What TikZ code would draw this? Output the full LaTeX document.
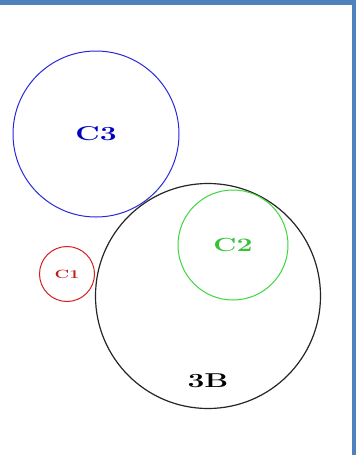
\documentclass[tikz,border=0pt]{standalone}
\usepackage{tikz}
\definecolor{frameblue}{RGB}{79,129,189}
\definecolor{ringblue}{RGB}{40,40,220}
\definecolor{ringgreen}{RGB}{60,215,60}
\definecolor{ringred}{RGB}{215,30,30}
\newcommand{\tag}[2]{\scalebox{1.5}[1]{\fontsize{#1}{#1}\selectfont\bfseries #2}}
\tikzset{ring/.style={circle, inner sep=0pt, line width=1pt}}

\begin{document}
\begin{tikzpicture}[x=1pt, y=-1pt]
    		\useasboundingbox (0,0) rectangle (356,455);
    		\fill[white] (0,0) rectangle (356,455);
    		
    		% frame
    		\fill[frameblue] (0,0) rectangle (356,5);
    		\fill[frameblue] (352,0) rectangle (356,455);
    		
    		% circles
    		\node[ring, draw=black!85, line width=1.2pt, minimum size=225pt] (b3) at (208,296) {};
    		\node[ring, draw=ringblue, minimum size=166pt, text=blue!75!black] (c3) at (96,134) {\tag{20}{C3}};
    		\node[ring, draw=ringgreen, minimum size=110pt, text=ringgreen!90!black] (c2) at (233,245) {\tag{19}{C2}};
    		\node[ring, draw=ringred, minimum size=55pt, text=ringred!90!black] (c1) at (67,274) {\tag{12}{C1}};
    		
    		\node (b3lbl) at (208,381) {\tag{20}{3B}};
    	\end{tikzpicture}
\end{document}
